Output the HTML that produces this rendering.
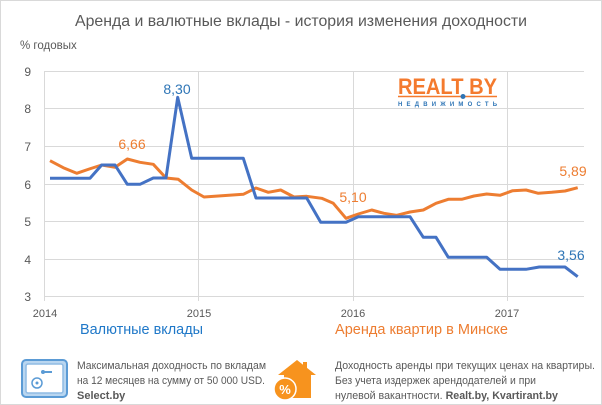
<!DOCTYPE html>
<html><head><meta charset="utf-8"><style>
body{margin:0;background:#fff}
svg{display:block;font-family:"Liberation Sans","DejaVu Sans",sans-serif}
</style></head><body>
<svg width="602" height="405" viewBox="0 0 602 405" xmlns="http://www.w3.org/2000/svg">
<rect x="0.5" y="0.5" width="601" height="404" fill="#fff" stroke="#d9d9d9"/>
<text x="301" y="26" text-anchor="middle" font-size="16" fill="#595959" textLength="452" lengthAdjust="spacingAndGlyphs">Аренда и валютные вклады - история изменения доходности</text>
<text x="20" y="49" font-size="11.5" fill="#595959">% годовых</text>
<g stroke="#d9d9d9" stroke-width="1">
<line x1="45" y1="71.5" x2="584" y2="71.5"/><line x1="45" y1="108.5" x2="584" y2="108.5"/>
<line x1="45" y1="146.5" x2="584" y2="146.5"/><line x1="45" y1="184.5" x2="584" y2="184.5"/>
<line x1="45" y1="221.5" x2="584" y2="221.5"/><line x1="45" y1="259.5" x2="584" y2="259.5"/>
<line x1="45" y1="296.5" x2="584" y2="296.5"/>
<line x1="44.5" y1="71" x2="44.5" y2="301"/><line x1="198.5" y1="71" x2="198.5" y2="301"/>
<line x1="353.5" y1="71" x2="353.5" y2="301"/><line x1="507.5" y1="71" x2="507.5" y2="301"/>
</g>
<g font-size="12" fill="#595959" text-anchor="end">
<text x="31" y="76">9</text><text x="31" y="113">8</text><text x="31" y="151">7</text><text x="31" y="189">6</text><text x="31" y="226">5</text><text x="31" y="264">4</text><text x="31" y="301">3</text>
</g>
<g font-size="11" fill="#595959" text-anchor="middle">
<text x="45" y="317">2014</text><text x="199" y="317">2015</text><text x="353" y="317">2016</text><text x="507" y="317">2017</text>
</g>
<polyline fill="none" stroke="#ed7d31" stroke-width="3" stroke-linejoin="round" points="50,160.7 63.3,167.7 76.7,173.3 89.3,169 101.7,165 115,167.3 127.3,159 140,162.3 153.3,164.3 166,178 178.3,179.3 191.7,190 204,197 243.3,194.3 256,188 268.3,192.3 280.7,190 294,197 306.7,196.3 321.7,198.3 333.3,203.3 346,218.3 358.3,214 371.7,210 384,213.3 396.7,215.3 410,212 423.3,210 436,203.3 448.3,199.3 461.7,199.3 474,196 486.7,194 500,195.3 512.7,190.7 526,190 538.3,193.3 551.7,192.3 565,191 577.7,187.7"/>
<polyline fill="none" stroke="#4472c4" stroke-width="3" stroke-linejoin="round" points="50,178.3 90,178.3 101.7,165 115,165 127.3,184.3 140,184.3 153.3,178 166,178 177.7,97.3 191.7,158.3 243.3,158.3 256,198 306.7,198 320.7,222.3 346,222.3 358.3,216.7 410,216.7 423.3,237.3 436,237.3 448.3,257.3 486.7,257.3 500,269.3 526,269.3 539.3,267 565,267 577.7,276.7"/>
<g font-size="14">
<text x="177" y="94" text-anchor="middle" fill="#2e75b6">8,30</text>
<text x="132" y="149" text-anchor="middle" fill="#ed7d31">6,66</text>
<text x="353" y="202" text-anchor="middle" fill="#ed7d31">5,10</text>
<text x="573" y="176" text-anchor="middle" fill="#ed7d31">5,89</text>
<text x="571" y="260" text-anchor="middle" fill="#2e75b6">3,56</text>
</g>
<text x="398" y="94" font-size="22" font-weight="bold" fill="#f47a2e" textLength="99" lengthAdjust="spacingAndGlyphs">REALT BY</text>
<line x1="398" y1="96.5" x2="497" y2="96.5" stroke="#f47a2e" stroke-width="1.5"/>
<circle cx="463" cy="96.5" r="2.5" fill="#2e75b6"/>
<text x="398" y="106" font-size="6" font-weight="bold" fill="#2e75b6" textLength="99">НЕДВИЖИМОСТЬ</text>
<text x="80" y="334" font-size="15" fill="#1f78c8" textLength="123" lengthAdjust="spacingAndGlyphs">Валютные вклады</text>
<text x="335" y="334" font-size="15" fill="#ed7d31" textLength="173" lengthAdjust="spacingAndGlyphs">Аренда квартир в Минске</text>
<rect x="22" y="360" width="45" height="37" rx="4" fill="#b9d6f0" stroke="#5b9bd5" stroke-width="2"/>
<rect x="26" y="364" width="37" height="29" rx="2" fill="#fff" stroke="#8fbbe4" stroke-width="1.5"/>
<circle cx="37" cy="383" r="5" fill="none" stroke="#5b9bd5" stroke-width="1.5"/><circle cx="37" cy="383" r="1.5" fill="#5b9bd5"/>
<line x1="44" y1="372" x2="52" y2="372" stroke="#5b9bd5" stroke-width="2"/><circle cx="43" cy="372" r="2" fill="#5b9bd5"/>
<g font-size="11" fill="#595959">
<text x="77" y="369" textLength="189" lengthAdjust="spacingAndGlyphs">Максимальная доходность по вкладам</text>
<text x="77" y="384" textLength="188" lengthAdjust="spacingAndGlyphs">на 12 месяцев на сумму от 50  000 USD.</text>
<text x="77" y="399" font-weight="bold">Select.by</text>
<text x="335" y="369" textLength="260" lengthAdjust="spacingAndGlyphs">Доходность аренды при текущих  ценах на квартиры.</text>
<text x="335" y="384" textLength="201" lengthAdjust="spacingAndGlyphs">Без учета издержек арендодателей и при</text>
<text x="335" y="399" textLength="223" lengthAdjust="spacingAndGlyphs">нулевой вакантности. <tspan font-weight="bold">Realt.by, Kvartirant.by</tspan></text>
</g>
<polygon points="278,375 297,360 316,375 311,375 311,398 284,398 284,375" fill="#f7931e"/>
<rect x="303" y="362" width="4" height="8" fill="#f7931e"/>
<circle cx="285" cy="389" r="11" fill="#f7931e" stroke="#fff" stroke-width="1.5"/>
<text x="285" y="394" text-anchor="middle" font-size="13" font-weight="bold" fill="#fff">%</text>
</svg>
</body></html>
